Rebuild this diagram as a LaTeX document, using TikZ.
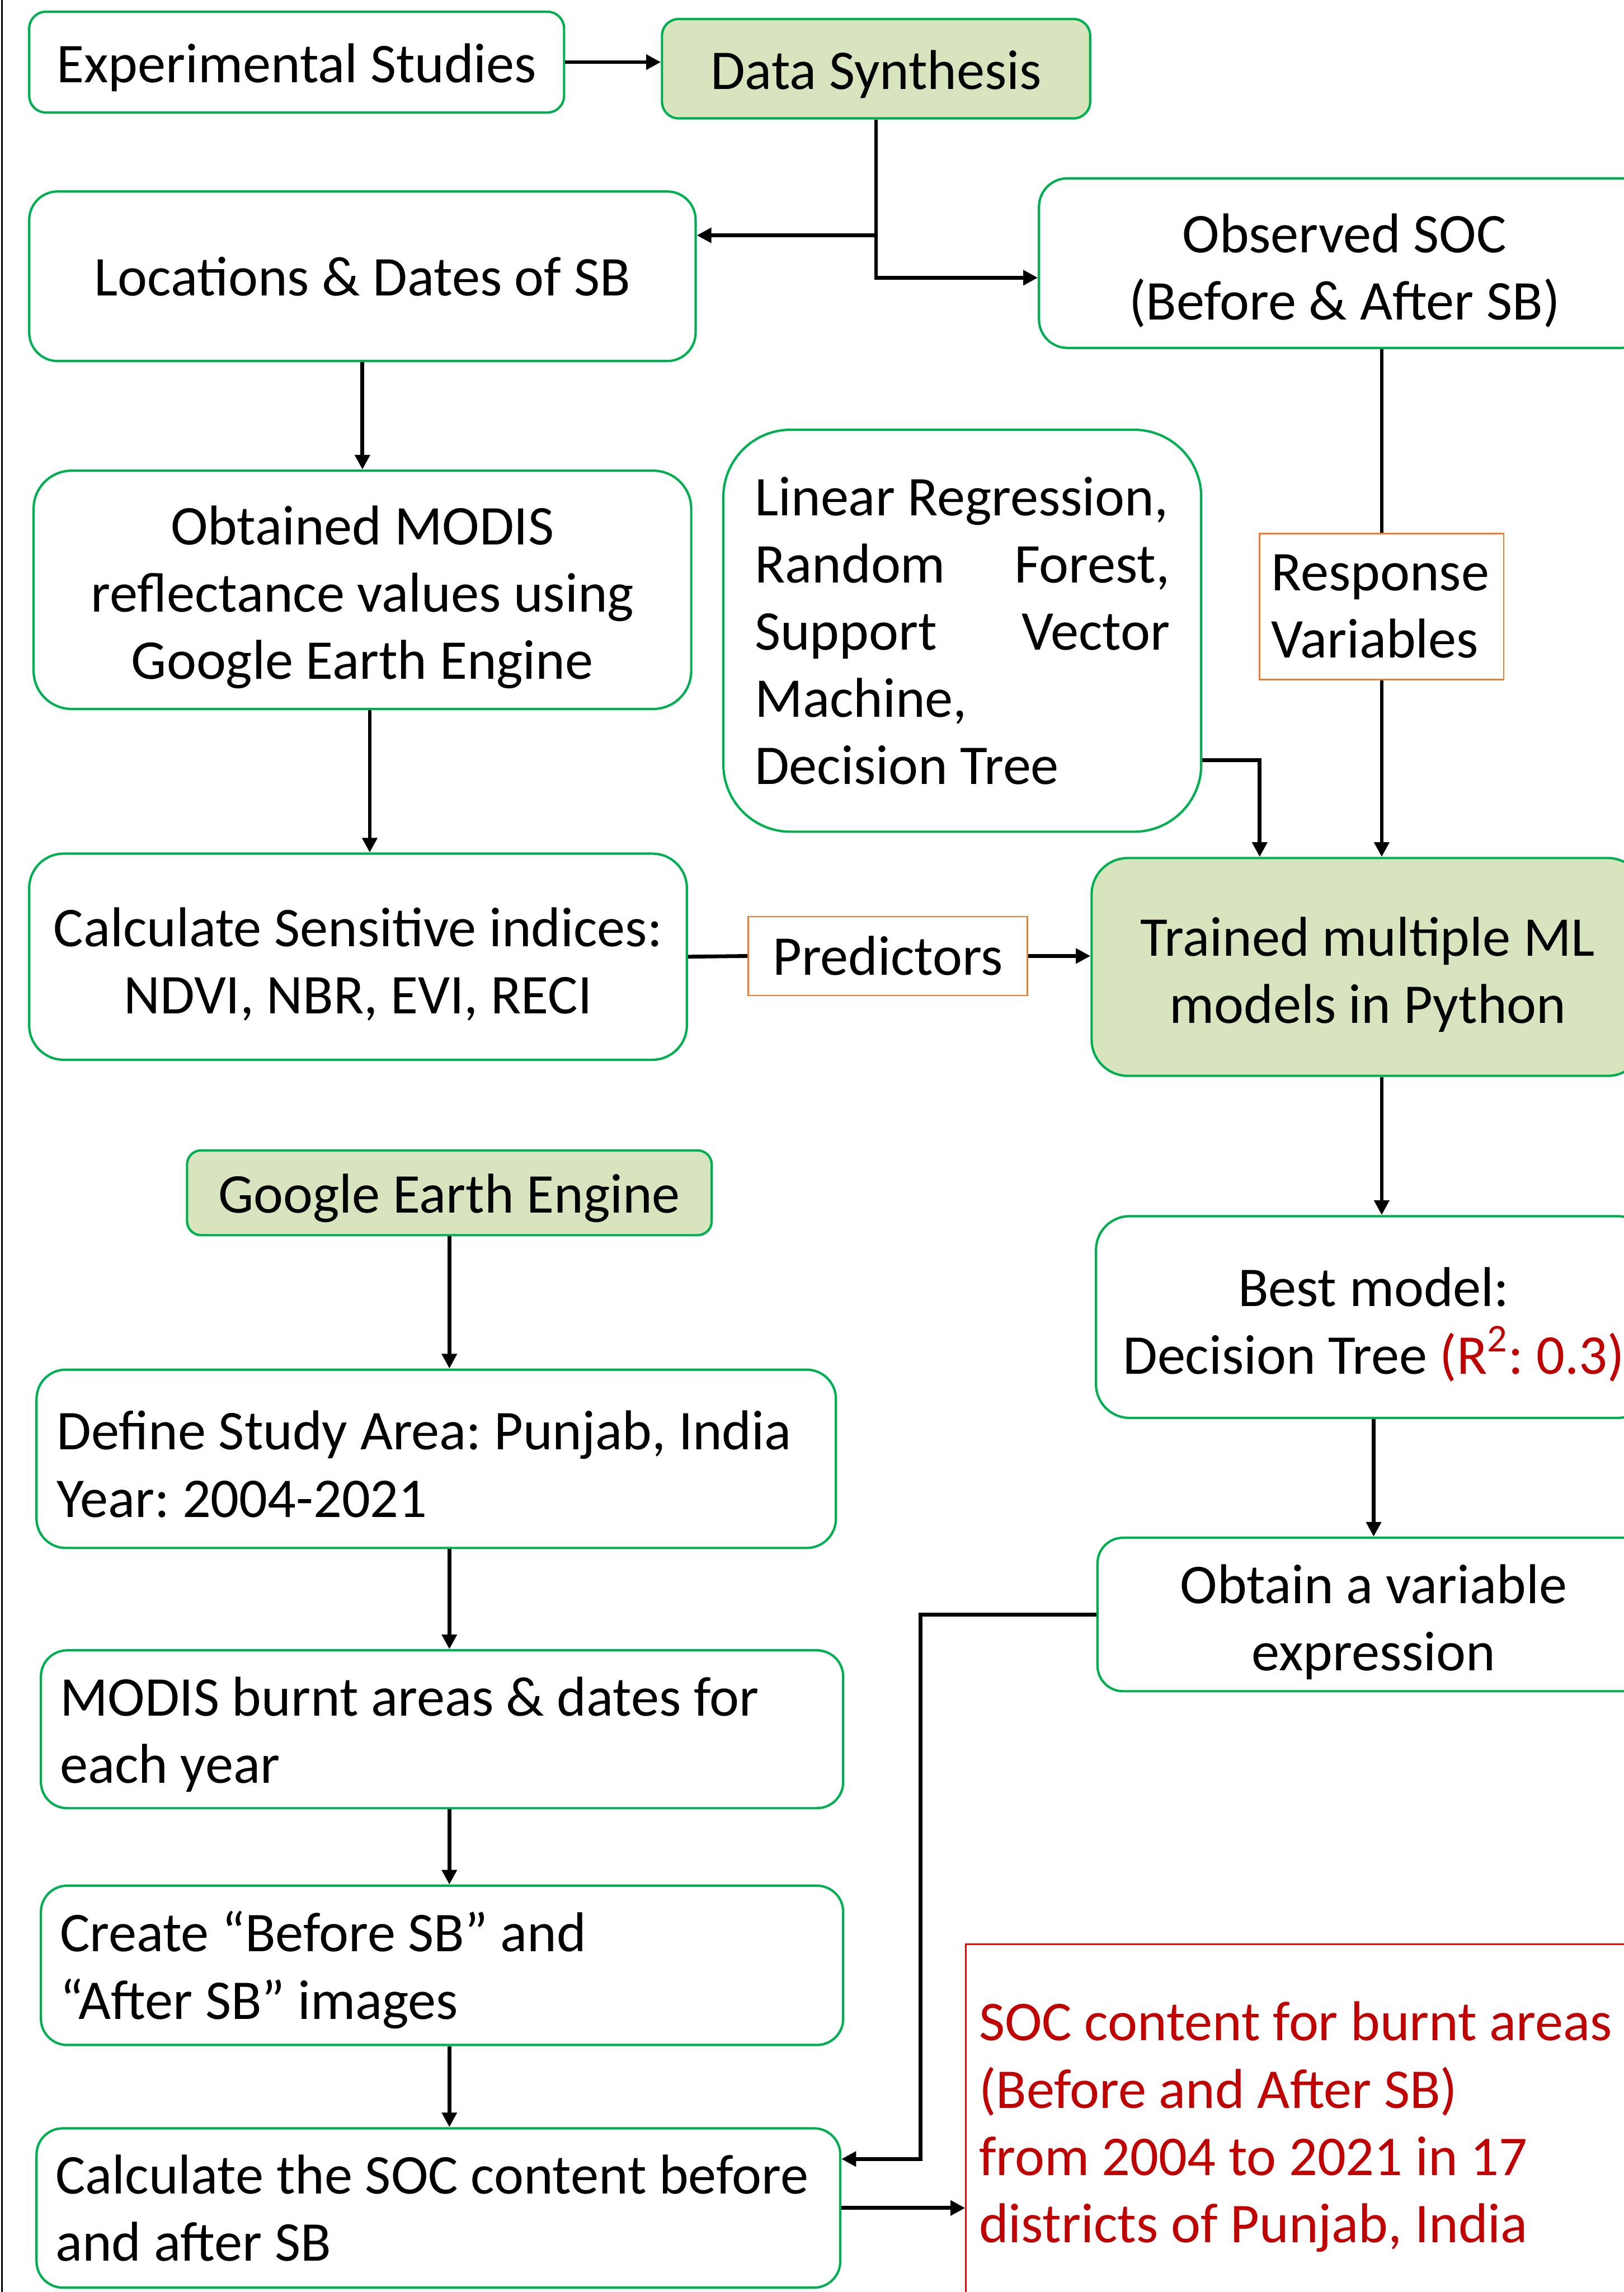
\documentclass[tikz,border=0pt]{standalone}
\usepackage{fontspec}
\setmainfont{Carlito}
\usetikzlibrary{arrows.meta}

\definecolor{boxgreen}{HTML}{00B050}
\definecolor{fillgreen}{HTML}{D7E4BD}
\definecolor{labelorange}{HTML}{ED7D31}
\definecolor{darkred}{HTML}{C00000}
\definecolor{brightred}{HTML}{FF0000}

\newcommand{\bodysize}{\fontsize{19.2}{23}\selectfont\frenchspacing}
% a taller first line lowers a centred text block slightly inside its box
\newcommand{\tallfirst}{\rule{0pt}{18.5pt}}

\tikzset{
  stepbox/.style={draw=boxgreen, line width=0.8pt, fill=white, inner sep=0pt,
                  align=center, font=\bodysize},
  keybox/.style={stepbox, fill=fillgreen},
  tagbox/.style={draw=labelorange, line width=0.5pt, fill=white, inner sep=0pt,
                 font=\bodysize},
  resultbox/.style={draw=brightred, line width=0.55pt, fill=white, inner sep=0pt,
                    text=darkred, font=\bodysize},
  lowtext/.style={execute at begin node={\rule{0pt}{17pt}}},
  link/.style={line width=1.3pt},
  arr/.style={link, -{Triangle[length=5pt,width=5pt]}},
}

\begin{document}
\begin{tikzpicture}[x=0.5pt, y=-0.5pt]
\useasboundingbox (0,0) rectangle (1111,1568);

% frame line along the left edge
\draw[line width=0.6pt] (1.5,0) -- (1.5,1568);

% ---- upper part: data collection and modelling ----
\node[stepbox, lowtext, minimum width=183pt, minimum height=34.5pt, rounded corners=5.75pt]
  (exp) at (203,42.5) {Experimental Studies};
\node[keybox, lowtext, minimum width=146.5pt, minimum height=34pt, rounded corners=5.7pt]
  (syn) at (599.5,47) {Data Synthesis};
\node[stepbox, minimum width=228pt, minimum height=58pt, rounded corners=9.7pt]
  (loc) at (248,189) {Locations \& Dates of SB};
\node[stepbox, minimum width=209pt, minimum height=58pt, rounded corners=9.7pt]
  (obs) at (920,180) {\tallfirst Observed SOC\\(Before \& After SB)};
\node[stepbox, minimum width=225pt, minimum height=81.5pt, rounded corners=13pt]
  (modis) at (248,403.5) {\tallfirst Obtained MODIS\\reflectance values using\\Google Earth Engine};
\node[stepbox, align=flush left, text width=142pt, inner xsep=10.75pt,
      minimum height=137.5pt, rounded corners=23pt]
  (lin) at (658.5,431.5)
  {\makebox[142pt][l]{Linear Regression,}\\
   \makebox[142pt][s]{Random\hfill Forest,}\\
   \makebox[142pt][s]{Support\hfill Vector}\\
   \makebox[142pt][l]{Machine,}\\
   \makebox[142pt][l]{Decision Tree}};
\node[tagbox, align=flush left, text width=75.5pt, inner xsep=4pt, minimum height=50pt]
  (resp) at (945.5,415) {Response\\Variables};
\node[stepbox, minimum width=225pt, minimum height=70.5pt, rounded corners=11.75pt]
  (calc) at (245,654.5) {\tallfirst Calculate Sensitive indices:\\NDVI, NBR, EVI, RECI};
\node[tagbox, minimum width=95.5pt, minimum height=27pt]
  (pred) at (607.5,654) {Predictors};
\node[keybox, minimum width=189pt, minimum height=74.5pt, rounded corners=12.4pt]
  (train) at (936,661.5) {\tallfirst Trained multiple ML\\models in Python};
\node[stepbox, minimum width=190pt, minimum height=69pt, rounded corners=11.5pt]
  (best) at (940,901)
  {\tallfirst Best model:\\Decision Tree {\color{darkred}(R\textsuperscript{2}: 0.3)}};
\node[stepbox, minimum width=189pt, minimum height=52.5pt, rounded corners=8.75pt]
  (obt) at (940,1104.5) {\tallfirst Obtain a variable\\expression};

% ---- lower part: Earth Engine processing ----
\node[keybox, lowtext, minimum width=179.5pt, minimum height=29pt, rounded corners=4.8pt]
  (gee) at (307.5,816) {Google Earth Engine};
\node[stepbox, lowtext, align=flush left, text width=259.5pt, inner xsep=7pt,
      minimum height=61pt, rounded corners=10pt]
  (def) at (298.5,998) {\mbox{Define Study Area: Punjab, India}\\Year: 2004-2021};
\node[stepbox, lowtext, align=flush left, text width=261.5pt, inner xsep=6.5pt,
      minimum height=54pt, rounded corners=9pt]
  (burn) at (302.5,1183) {\mbox{MODIS burnt areas \& dates for}\\each year};
\node[stepbox, lowtext, align=flush left, text width=261.5pt, inner xsep=6.5pt,
      minimum height=54.5pt, rounded corners=9pt]
  (create) at (302.5,1344.5) {\mbox{Create “Before SB” and}\\“After SB” images};
\node[stepbox, align=flush left, text width=262pt, inner xsep=6.5pt,
      minimum height=54.5pt, rounded corners=9pt]
  (soc) at (300,1510.5) {\mbox{Calculate the SOC content before}\\and after SB};
\node[resultbox, align=flush left, text width=226pt, inner xsep=4.5pt, minimum height=125pt]
  (red) at (896,1455)
  {\mbox{SOC content for burnt areas}\\(Before and After SB)\\\mbox{from 2004 to 2021 in 17}\\\mbox{districts of Punjab, India}};

% ---- connectors ----
\coordinate (fork) at (599.5,161);
\coordinate (bend) at (599.5,190);
\coordinate (lturn) at (862,520);
\coordinate (rturn) at (630,1477);

\draw[arr] (exp.east) -- (exp.east -| syn.west);
\draw[arr] (syn.south) -- (bend) -- (bend -| obs.west);
\draw[arr] (fork) -- (fork -| loc.east);
\draw[arr] (loc.south) -- (modis.north);
\draw[arr] ([xshift=2.5pt]modis.south) -- ([xshift=2.5pt]modis.south |- calc.north);
\draw[link] (calc.east) -- (pred.west);
\draw[arr] (pred.east) -- (pred.east -| train.west);
\draw[arr] (lturn -| lin.east) -- (lturn) -- (lturn |- train.north);
\draw[link] (resp.north |- obs.south) -- (resp.north);
\draw[arr] (resp.south) -- (resp.south |- train.north);
\draw[arr] (resp.south |- train.south) -- (resp.south |- best.north);
\draw[arr] (best.south) -- (obt.north);
\draw[arr] (obt.west) -- (obt.west -| rturn) -- (rturn) -- (rturn -| soc.east);
\draw[arr] (soc.east) -- (soc.east -| red.west);

\draw[arr] (gee.south) -- (gee.south |- def.north);
\draw[arr] (gee.south |- def.south) -- (gee.south |- burn.north);
\draw[arr] (gee.south |- burn.south) -- (gee.south |- create.north);
\draw[arr] (gee.south |- create.south) -- (gee.south |- soc.north);
\end{tikzpicture}
\end{document}
